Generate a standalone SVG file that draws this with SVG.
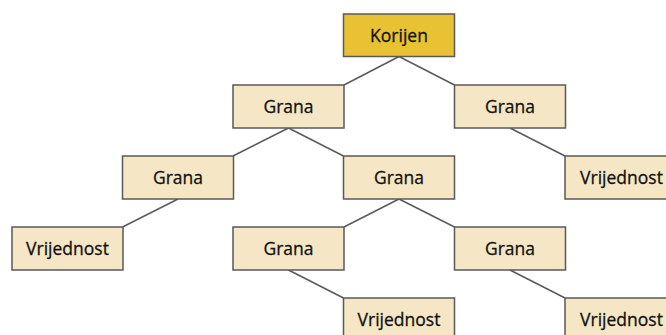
<svg xmlns="http://www.w3.org/2000/svg" width="666" height="335" viewBox="0 0 666 335">
<style>
.box{fill:#F5E7C5;stroke:#5A5A5A;stroke-width:1.5}
.root{fill:#E8C232;stroke:#5A5A5A;stroke-width:1.5}
.lbl{font-family:"Open Sans","Noto Sans",sans-serif;font-size:17.5px;fill:#111111;stroke:#111111;stroke-width:0.3;text-anchor:middle}
.con line{stroke:#5A5A5A;stroke-width:1.5}
</style>
<rect width="666" height="335" fill="#ffffff"/>
<g id="connectors" class="con">
<line x1="399" y1="56.5" x2="344" y2="85"/>
<line x1="399" y1="56.5" x2="454.5" y2="85"/>
<line x1="288.5" y1="128" x2="233" y2="156"/>
<line x1="288.5" y1="128" x2="343.5" y2="156"/>
<line x1="510" y1="128" x2="565" y2="156"/>
<line x1="178" y1="199" x2="122.5" y2="227"/>
<line x1="399" y1="199" x2="344" y2="227"/>
<line x1="399" y1="199" x2="454.5" y2="227"/>
<line x1="288.5" y1="270" x2="343.5" y2="298"/>
<line x1="510" y1="270" x2="565" y2="298"/>
</g>
<g id="root"><rect class="root" x="343.5" y="14" width="111" height="42.5"/><text class="lbl" x="399" y="42">Korijen</text></g>
<g id="grana1"><rect class="box" x="233" y="85" width="111" height="43"/><text class="lbl" x="288.5" y="113">Grana</text></g>
<g id="grana2"><rect class="box" x="454.5" y="85" width="111" height="43"/><text class="lbl" x="510" y="113">Grana</text></g>
<g id="grana3"><rect class="box" x="122.5" y="156" width="111" height="43"/><text class="lbl" x="178" y="184">Grana</text></g>
<g id="grana4"><rect class="box" x="343.5" y="156" width="111" height="43"/><text class="lbl" x="399" y="184">Grana</text></g>
<g id="vrijednost1"><rect class="box" x="565" y="156" width="111" height="43"/><text class="lbl" x="621.5" y="184">Vrijednost</text></g>
<g id="vrijednost2"><rect class="box" x="12" y="227" width="111" height="43"/><text class="lbl" x="67.5" y="255">Vrijednost</text></g>
<g id="grana5"><rect class="box" x="233" y="227" width="111" height="43"/><text class="lbl" x="288.5" y="255">Grana</text></g>
<g id="grana6"><rect class="box" x="454.5" y="227" width="111" height="43"/><text class="lbl" x="510" y="255">Grana</text></g>
<g id="vrijednost3"><rect class="box" x="343.5" y="298" width="111" height="43"/><text class="lbl" x="399" y="326">Vrijednost</text></g>
<g id="vrijednost4"><rect class="box" x="565" y="298" width="111" height="43"/><text class="lbl" x="621.5" y="326">Vrijednost</text></g>
</svg>
